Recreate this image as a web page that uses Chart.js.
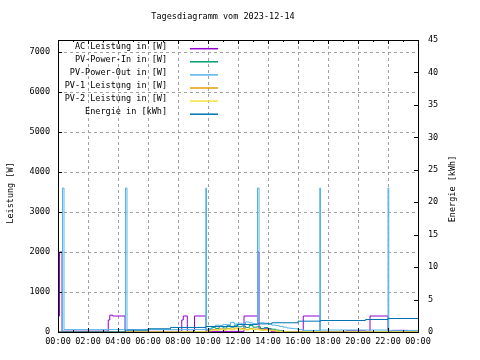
<!DOCTYPE html>
<html>
<head>
<meta charset="utf-8">
<title>Tagesdiagramm vom 2023-12-14</title>
<script src="https://cdn.jsdelivr.net/npm/chart.js@4.4.0/dist/chart.umd.min.js"></script>
<style>
  html, body { margin: 0; padding: 0; background: #fff; }
  canvas { display: block; }
</style>
</head>
<body>
<canvas id="chart" width="480" height="360"></canvas>
<script>
// Zeit in Stunden (0..24), Werte in W bzw. kWh
const acTime  = [0, 0.1, 0.27, 3.35, 3.45, 3.65, 4.47, 8.25, 8.35, 8.62, 9.1, 9.87, 12.4, 13.3, 13.4, 14.2, 16.35, 17.47, 19.2, 20.5, 20.8, 22.0, 22.3, 23.3, 24];
const acPower = [400, 2000, 20, 300, 420, 400, 15, 300, 400, 15, 400, 15, 400, 2000, 80, 10, 400, 10, 30, 10, 400, 10, 40, 5, 5];

const pvTime  = [0, 9.9, 10.0, 10.25, 10.5, 10.75, 11.0, 11.25, 11.5, 11.75, 12.0, 12.25, 12.5, 12.75, 13.0, 13.25, 13.5, 13.75, 14.0, 14.25, 14.5, 14.75, 15.0, 15.25, 15.5, 24];
const pvIn    = [0, 0, 70, 110, 90, 140, 100, 160, 120, 170, 130, 150, 110, 160, 120, 130, 90, 110, 80, 70, 50, 30, 15, 5, 0, 0];
const pv1     = [0, 0, 40, 60, 50, 80, 55, 90, 70, 100, 75, 85, 60, 90, 70, 75, 50, 60, 45, 40, 25, 15, 5, 0, 0, 0];
const pv2     = [0, 0, 30, 45, 40, 60, 45, 70, 55, 75, 60, 65, 50, 70, 55, 55, 40, 45, 35, 30, 20, 10, 5, 0, 0, 0];

const outTime = [0, 0.3, 0.4, 4.5, 4.6, 9.85, 9.9, 10.0, 10.25, 10.5, 10.75, 11.0, 11.25, 11.5, 11.75, 12.0, 12.25, 12.5, 12.75, 13.0, 13.3, 13.4, 13.75, 14.0, 14.25, 14.5, 14.75, 15.0, 15.25, 15.5, 15.75, 16.0, 16.35, 17.45, 17.5, 22.0, 22.05, 24];
const pvOut   = [10, 3600, 60, 3600, 60, 3600, 60, 90, 140, 170, 160, 190, 180, 240, 200, 220, 200, 250, 230, 210, 3600, 230, 220, 200, 170, 160, 140, 120, 100, 90, 80, 60, 40, 3600, 50, 3600, 40, 40];

const energyTime = [0, 4.5, 6.0, 7.5, 9.85, 11.95, 13.3, 14.25, 16.0, 17.5, 20.5, 22.0, 24];
const energy     = [0.02, 0.28, 0.5, 0.7, 0.85, 1.15, 1.25, 1.42, 1.67, 1.77, 1.93, 2.08, 2.08];

const powerTicks  = [0, 1000, 2000, 3000, 4000, 5000, 6000, 7000];
const energyTicks = [0, 5, 10, 15, 20, 25, 30, 35, 40, 45];

const seriesLabels = ['AC Leistung in [W]', 'PV-Power-In in [W]', 'PV-Power-Out in [W]', 'PV-1 Leistung in [W]', 'PV-2 Leistung in [W]', 'Energie in [kWh]'];
const seriesColors = ['#9400d3', '#009e73', '#56b4e9', '#e69f00', '#f0e442', '#0072b2'];

const FONT = '"DejaVu Sans Mono", monospace';
const FSIZE = 8.5;

function pts(t, v) {
  return t.map((x, i) => ({ x: x, y: v[i] }));
}

function hourLabel(v) {
  const h = v % 24;
  return (h < 10 ? '0' : '') + h + ':00';
}

const series = [
  pts(acTime, acPower),
  pts(pvTime, pvIn),
  pts(outTime, pvOut),
  pts(pvTime, pv1),
  pts(pvTime, pv2),
  pts(energyTime, energy)
];

// Rahmen, Ticks nach innen, Titel und Legende im gnuplot-Stil
const gnuplotFrame = {
  id: 'gnuplotFrame',
  afterDatasetsDraw(chart) {
    const { ctx, chartArea: a, scales } = chart;
    ctx.save();
    ctx.strokeStyle = '#000';
    ctx.lineWidth = 1;
    ctx.beginPath();
    for (let h = 0; h <= 24; h++) {
      const px = Math.round(scales.x.getPixelForValue(h)) + 0.5;
      const len = h % 2 === 0 ? 4 : 2;
      ctx.moveTo(px, a.bottom); ctx.lineTo(px, a.bottom - len);
      ctx.moveTo(px, a.top); ctx.lineTo(px, a.top + len);
    }
    powerTicks.forEach(v => {
      const py = Math.round(scales.y.getPixelForValue(v)) + 0.5;
      ctx.moveTo(a.left, py); ctx.lineTo(a.left + 4, py);
    });
    energyTicks.forEach(v => {
      const py = Math.round(scales.y2.getPixelForValue(v)) + 0.5;
      ctx.moveTo(a.right, py); ctx.lineTo(a.right - 4, py);
    });
    ctx.stroke();
    ctx.strokeRect(Math.round(a.left) + 0.5, Math.round(a.top) + 0.5,
      Math.round(a.right - a.left), Math.round(a.bottom - a.top));

    ctx.fillStyle = '#000';
    ctx.font = FSIZE + 'px ' + FONT;
    ctx.textBaseline = 'middle';

    // Legende
    ctx.textAlign = 'right';
    seriesLabels.forEach((lab, i) => {
      const y = 46.7 + i * 13.1;
      ctx.fillStyle = '#000';
      ctx.fillText(lab, 167, y);
      ctx.strokeStyle = seriesColors[i];
      ctx.lineWidth = 1.5;
      ctx.beginPath();
      ctx.moveTo(190, y + 2);
      ctx.lineTo(218, y + 2);
      ctx.stroke();
    });

    // Titel
    ctx.fillStyle = '#000';
    ctx.textAlign = 'center';
    ctx.fillText('Tagesdiagramm vom 2023-12-14', 223, 17);

    // Achsentitel
    ctx.save();
    ctx.translate(11, 193);
    ctx.rotate(-Math.PI / 2);
    ctx.fillText('Leistung [W]', 0, 0);
    ctx.restore();
    ctx.save();
    ctx.translate(453, 189);
    ctx.rotate(-Math.PI / 2);
    ctx.fillText('Energie [kWh]', 0, 0);
    ctx.restore();
    ctx.restore();
  }
};

new Chart(document.getElementById('chart').getContext('2d'), {
  type: 'line',
  data: {
    datasets: series.map((d, i) => ({
      label: seriesLabels[i],
      data: d,
      borderColor: seriesColors[i],
      backgroundColor: seriesColors[i],
      borderWidth: 1,
      pointRadius: 0,
      stepped: true,
      fill: false,
      yAxisID: i === 5 ? 'y2' : 'y',
      order: 5 - i
    }))
  },
  options: {
    responsive: false,
    animation: false,
    events: [],
    layout: { padding: { top: 40, left: 0, right: 0, bottom: 0 } },
    plugins: { legend: { display: false }, tooltip: { enabled: false }, title: { display: false } },
    scales: {
      x: {
        type: 'linear',
        min: 0,
        max: 24,
        afterFit(s) { s.height = 28; },
        ticks: {
          stepSize: 2,
          autoSkip: false,
          maxRotation: 0,
          padding: 5,
          color: '#000',
          font: { family: FONT, size: FSIZE },
          callback: v => hourLabel(v)
        },
        grid: {
          drawTicks: false,
          color: c => (c.tick && (c.tick.value === 0 || c.tick.value === 24)) ? 'rgba(0,0,0,0)' : '#a0a0a0'
        },
        border: { display: false, dash: [3, 3] }
      },
      y: {
        position: 'left',
        min: 0,
        max: 7300,
        afterFit(s) { s.width = 58; },
        afterBuildTicks(s) { s.ticks = powerTicks.map(v => ({ value: v })); },
        ticks: {
          padding: 8,
          color: '#000',
          font: { family: FONT, size: FSIZE },
          callback: v => String(v)
        },
        grid: {
          drawTicks: false,
          color: c => (c.tick && c.tick.value === 0) ? 'rgba(0,0,0,0)' : '#a0a0a0'
        },
        border: { display: false, dash: [3, 3] }
      },
      y2: {
        position: 'right',
        min: 0,
        max: 45,
        afterFit(s) { s.width = 62; },
        afterBuildTicks(s) { s.ticks = energyTicks.map(v => ({ value: v })); },
        ticks: {
          padding: 10,
          color: '#000',
          font: { family: FONT, size: FSIZE },
          callback: v => String(v)
        },
        grid: { display: false, drawTicks: false },
        border: { display: false }
      }
    }
  },
  plugins: [gnuplotFrame]
});
</script>
</body>
</html>
